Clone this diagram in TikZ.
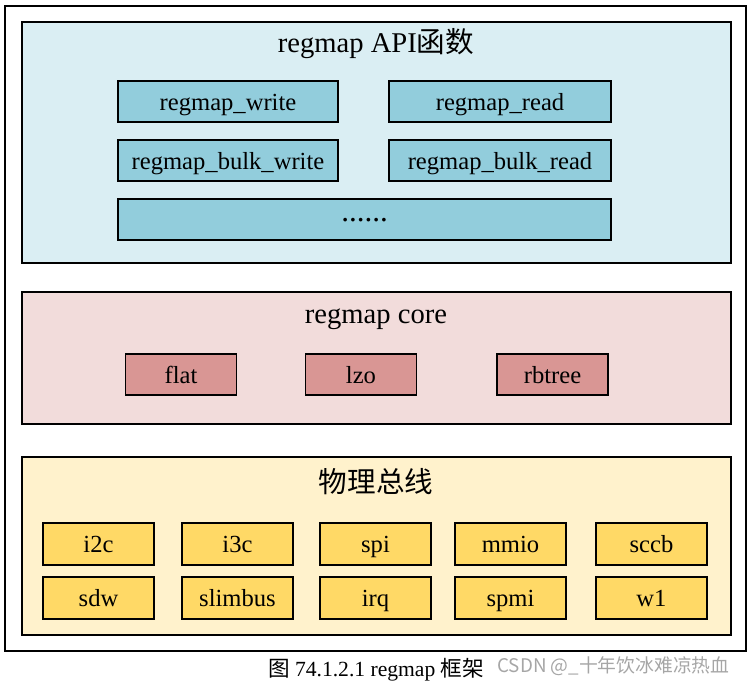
\documentclass[tikz,border=0pt]{standalone}
\usepackage{fontspec}
\setmainfont{Liberation Serif}
\newfontfamily\cjk{Noto Sans CJK SC}
\definecolor{apibg}{HTML}{DAEEF3}
\definecolor{apifn}{HTML}{92CDDC}
\definecolor{corebg}{HTML}{F2DCDB}
\definecolor{corefn}{HTML}{D99694}
\definecolor{busbg}{HTML}{FFF2CC}
\definecolor{busfn}{HTML}{FFD966}
\begin{document}
\begin{tikzpicture}[x=0.5pt,y=-0.5pt,
  layer/.style={draw,line width=0.7pt,inner sep=0pt,minimum width=354.5pt},
  boxtxt/.style={draw,line width=0.7pt,inner sep=0pt,text height=11.4pt,text depth=2.7pt,font=\fontsize{12.3}{14}\selectfont},
  fn/.style={boxtxt,fill=apifn,minimum height=20.5pt},
  cache/.style={boxtxt,fill=corefn,minimum width=55.5pt,minimum height=20.5pt},
  busif/.style={boxtxt,fill=busfn,minimum width=55.5pt,minimum height=21pt},
  title/.style={text height=10pt,text depth=3.1pt,font=\fontsize{14.3}{17}\selectfont}]
\useasboundingbox (0,0) rectangle (754,685);
\draw[line width=1.3pt] (5,6) rectangle (746,651);
% regmap API
\draw(376.5,142.5)node[layer,fill=apibg,minimum height=120.5pt](api){} (376,46)node[title](apititle){regmap API{\cjk 函数}};
\draw(228,101.5)node[fn,minimum width=110pt](wr){regmap\_write} (500,101.5)node[fn,minimum width=111pt](rd){regmap\_read};
\draw(228,160.5)node[fn,minimum width=110pt](bwr){regmap\_bulk\_write} (500,160.5)node[fn,minimum width=111pt](brd){regmap\_bulk\_read};
\draw(364.5,219.5)node[draw,line width=0.7pt,fill=apifn,inner sep=0pt,minimum width=246.5pt,minimum height=20.5pt,text height=2pt,text depth=0pt,font=\fontsize{15.5}{17}\selectfont](more){......};
% regmap core
\draw(376.5,358)node[layer,fill=corebg,minimum height=66pt](core){} (376,317)node[title](coretitle){regmap core};
\draw(181,374.5)node[cache](flat){flat} (361,374.5)node[cache](lzo){lzo} (552.5,374.5)node[cache](rbtree){rbtree};
% bus
\draw(376.5,546)node[layer,fill=busbg,minimum height=89pt](bus){} (376,486)node[title](bustitle){\cjk 物理总线};
\draw(98.5,544)node[busif](i2c){i2c} (237.5,544)node[busif](i3c){i3c} (375.5,544)node[busif](spi){spi} (510.5,544)node[busif](mmio){mmio} (651.5,544)node[busif](sccb){sccb};
\draw(98.5,598)node[busif](sdw){sdw} (237.5,598)node[busif](slimbus){slimbus} (375.5,598)node[busif](irq){irq} (510.5,598)node[busif](spmi){spmi} (651.5,598)node[busif](w1){w1};
% caption
\draw(376,670)node[font=\fontsize{10.8}{13}\selectfont](cap){{\cjk 图} 74.1.2.1 regmap {\cjk 框架}};
\draw(497,666)node[anchor=west,inner sep=0pt,text=black!35,font=\cjk\fontsize{9.4}{11}\selectfont](mark){CSDN @\_十年饮冰难凉热血};
\end{tikzpicture}
\end{document}
